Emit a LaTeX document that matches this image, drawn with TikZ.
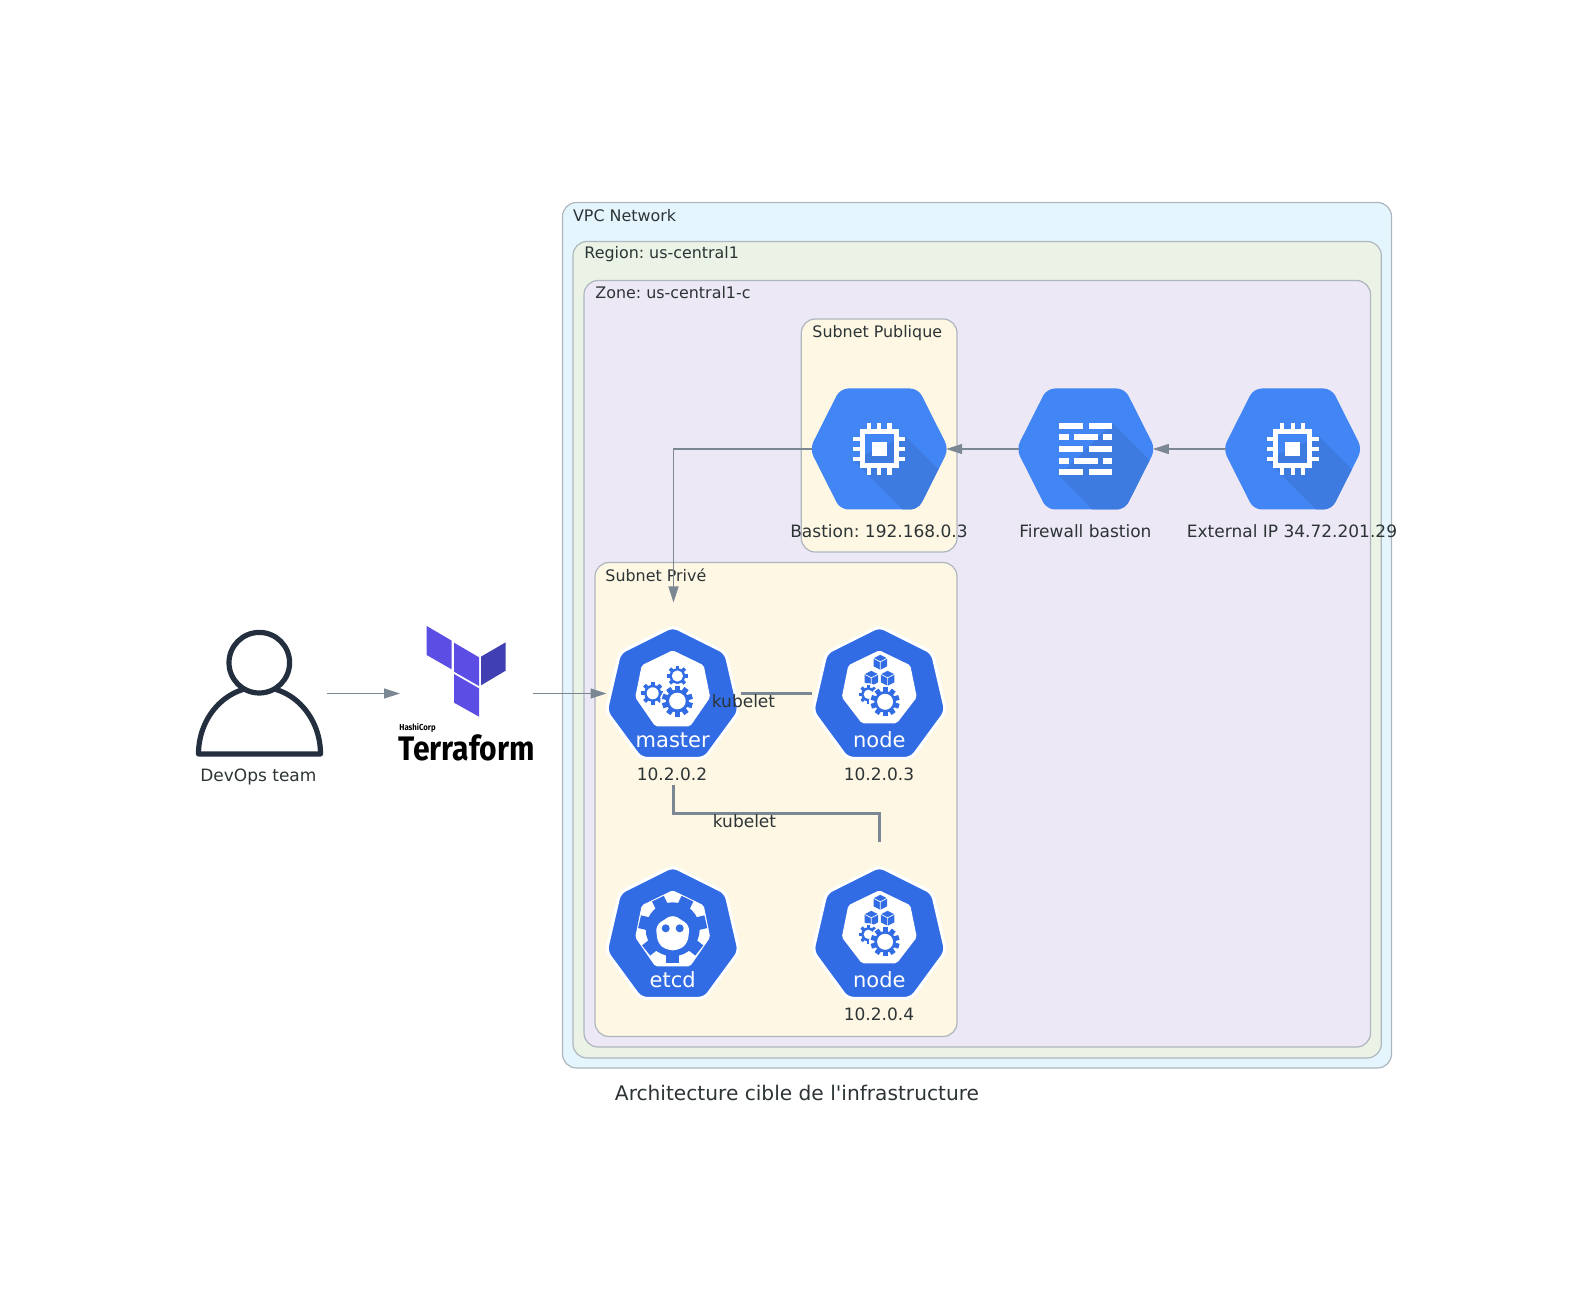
\documentclass[tikz,border=0pt]{standalone}
\usepackage{fontspec}
\usepackage{graphicx}
\setmainfont{DejaVu Sans}
\newfontfamily\tffont{Fira Sans}
\newfontfamily\titlefont{DejaVu Sans}
\usetikzlibrary{arrows.meta}
\frenchspacing
\definecolor{edgegray}{HTML}{7B8894}
\definecolor{txt}{HTML}{2D3436}
\definecolor{kblue}{HTML}{326CE5}
\definecolor{gblue}{HTML}{4285F4}
\definecolor{gshade}{HTML}{3E7BE0}
\definecolor{tfa}{HTML}{5C4EE5}
\definecolor{tfb}{HTML}{4040B2}
\definecolor{usercol}{HTML}{232F3E}
\definecolor{bordercol}{HTML}{AEB6BE}
\definecolor{vpcfill}{HTML}{E5F5FD}
\definecolor{regfill}{HTML}{EBF3E7}
\definecolor{zonefill}{HTML}{ECE8F6}
\definecolor{subfill}{HTML}{FDF7E3}
\tikzset{
  cluster/.style={draw=bordercol,line width=0.6pt,rounded corners=7pt},
  clab/.style={text=txt,font=\fontsize{7.95}{10}\selectfont,anchor=west,inner sep=0pt},
  lab/.style={text=txt,font=\fontsize{8.5}{10}\selectfont,inner sep=0pt},
  klab/.style={text=white,font=\fontsize{10.5}{12}\selectfont,inner sep=0pt},
  kubebox/.style={minimum width=67pt,minimum height=91pt,inner sep=0pt,outer sep=0pt},
  hexbox/.style={minimum width=67pt,minimum height=60.5pt,inner sep=0pt,outer sep=0pt},
  plainbox/.style={minimum width=66.7pt,minimum height=66.7pt,inner sep=0pt,outer sep=0pt},
  thin edge/.style={draw=edgegray,line width=0.6pt,-{Triangle[length=8pt,width=5pt]}},
  thick edge/.style={draw=edgegray,line width=1.5pt},
}
% gear: x y outer hole teeth
\newcommand{\kgear}[5]{%
  \begin{scope}[shift={(#1,#2)}]
    \fill[white] (0,0) circle ({#3+1.6});
    \foreach \i in {1,...,#5}{\fill[kblue,rotate={360*\i/#5}] ({-0.17*#3},0) rectangle ({0.17*#3},#3);}
    \fill[kblue] (0,0) circle ({0.74*#3});
    \fill[white] (0,0) circle (#4);
  \end{scope}}
\newcommand{\kcube}[2]{%
  \begin{scope}[shift={(#1,#2)}]
    \fill[kblue] (0,-7.5)--(6.8,-4)--(6.8,4)--(0,7.5)--(-6.8,4)--(-6.8,-4)--cycle;
    \draw[white,line width=0.35pt] (-6.8,-4)--(0,-0.5)--(6.8,-4) (0,-0.5)--(0,7.5);
  \end{scope}}
% heptagon: x y bottom of the inner face
\newcommand{\khept}[3]{%
  \begin{scope}[shift={(#1,#2)}]
    \filldraw[fill=kblue,draw=white,line width=1.5pt,rounded corners=3pt,line join=round]
      (0,-67)--(53,-40.5)--(66.5,18)--(32,65)--(-32,65)--(-66.5,18)--(-53,-40.5)--cycle;
    \fill[white,rounded corners=1pt] (0,-43)--(31,-28)--(37.5,4)--(17.5,#3)--(-17.5,#3)--(-37.5,4)--(-31,-28)--cycle;
  \end{scope}}
\newcommand{\knodeicon}[2]{%
  \khept{#1}{#2}{30}
  \begin{scope}[shift={(#1,#2)}]
    \kcube{1}{-31}\kcube{-8}{-15}\kcube{8.3}{-15}
    \kgear{-11}{1}{9.5}{4.6}{8}
    \kgear{5.8}{8.5}{14.5}{8}{10}
  \end{scope}}
\newcommand{\gchexbase}[1]{%
  \path[clip,rounded corners=4pt] (-39,-60.5)--(39,-60.5)--(69.5,0)--(39,60.5)--(-39,60.5)--(-69.5,0)--cycle;
  \fill[gblue] (-80,-70) rectangle (80,70);
  \fill[gshade] #1;}
\newcommand{\chipicon}[2]{%
  \begin{scope}[shift={(#1,#2)}]
    \begin{scope}
      \gchexbase{(26,-13)--(90,51)--(90,70)--(33,70)--(-26,11)--cycle}
    \end{scope}
    \draw[white,line width=2.5pt] (-17,-17) rectangle (17,17);
    \fill[white] (-7.3,-7.3) rectangle (7.3,7.3);
    \foreach \p in {-10.3,0,10.3}{
      \fill[white] (\p-2.1,-26) rectangle (\p+2.1,-19);
      \fill[white] (\p-2.1,19) rectangle (\p+2.1,26);
      \fill[white] (-26,\p-2.1) rectangle (-19,\p+2.1);
      \fill[white] (19,\p-2.1) rectangle (26,\p+2.1);
    }
  \end{scope}}
\newcommand{\fwbar}[3]{\fill[white] (#1,#3-3) rectangle (#2,#3+3);}
\newcommand{\fwicon}[2]{%
  \begin{scope}[shift={(#1,#2)}]
    \begin{scope}
      \gchexbase{(26.5,-26)--(90,37.5)--(90,70)--(16,70)--(-26.5,27)--cycle}
    \end{scope}
    \foreach \r in {-22.8,0.3,23.5}{\fwbar{-26.5}{-2.5}{\r}\fwbar{2.8}{26.5}{\r}}
    \foreach \r in {-11.5,12}{\fwbar{-26.5}{-17}{\r}\fwbar{-12}{11.8}{\r}\fwbar{17.5}{26.5}{\r}}
  \end{scope}}
\begin{document}
\begin{tikzpicture}[x=0.5pt,y=-0.5pt]
\useasboundingbox (0,0) rectangle (1595,1304);
% clusters
\draw[cluster,fill=vpcfill] (562.5,202.5) rectangle (1391.5,1068);
\draw[cluster,fill=regfill] (573,241.5) rectangle (1381.3,1058);
\draw[cluster,fill=zonefill] (584,280.5) rectangle (1370.5,1047);
\draw[cluster,fill=subfill] (801.3,319) rectangle (957,552);
\draw[cluster,fill=subfill] (595,562.5) rectangle (957,1036.5);
\node[clab] (lvpc) at (572.7,216) {VPC Network};
\node[clab] (lreg) at (584,254.5) {Region: us-central1};
\node[clab] (lzone) at (595,292.5) {Zone: us-central1-c};
\node[clab] (lpub) at (812,333) {Subnet Publique};
\node[clab] (lpriv) at (605,575) {Subnet Privé};
% user
\begin{scope}[line width=2.6pt,line join=round]
  \draw[usercol] (198.5,754) arc[start angle=180,end angle=360,x radius=61,y radius=67] -- cycle;
  \filldraw[draw=usercol,fill=white] (259.3,662.7) circle (30.3);
\end{scope}
\node[plainbox] (user) at (260,693.5) {};
% terraform
\begin{scope}[shift={(180,600)},x=0.16667pt,y=-0.16667pt]
  \fill[tfa] (740,78)--(815,122)--(815,208)--(740,165)--cycle;
  \fill[tfa] (822,128)--(897,172)--(897,258)--(822,215)--cycle;
  \fill[tfb] (903,170)--(977,127)--(977,212)--(903,256)--cycle;
  \fill[tfa] (822,222)--(897,265)--(897,350)--(822,308)--cycle;
\end{scope}
\node[plainbox] (tf) at (466.7,693.5) {};
\node[inner sep=0pt,anchor=west] (hashi) at (399,728.3) {\tffont\bfseries\fontsize{4.3}{5}\selectfont\scalebox{0.9}[1]{HashiCorp}};
\node[inner sep=0pt] (tfword) at (466.6,748) {\tffont\bfseries\fontsize{17}{20}\selectfont\scalebox{0.885}[1]{Terraform}};
% GCP icons
\chipicon{879.2}{449}
\fwicon{1085.8}{449}
\chipicon{1292.6}{449}
\node[hexbox] (bastion) at (879.2,449) {};
\node[hexbox] (firewall) at (1085.8,449) {};
\node[hexbox] (extip) at (1292.6,449) {};
% k8s icons
\khept{672.7}{693.3}{33}
\begin{scope}[shift={(672.7,693.3)}]
  \kgear{4.7}{-17.3}{10.5}{5.6}{8}
  \kgear{-20}{0}{11.5}{6}{8}
  \kgear{4.7}{7.7}{15.5}{8.3}{10}
\end{scope}
\knodeicon{879.3}{693.3}
\khept{672.7}{933.3}{33}
\begin{scope}[shift={(672.7,929.3)}]
  \foreach \i in {0,...,6}{\fill[kblue,rotate={360*\i/7}] (-6.5,0) rectangle (6.5,34);}
  \fill[kblue] (0,0) circle (27);
  \fill[white,rounded corners=3pt] (0,-15)--(17,-4)--(15,14)--(6,21)--(-6,21)--(-15,14)--(-17,-4)--cycle;
  \fill[kblue] (-7,-1) circle (4);
  \fill[kblue] (7,-1) circle (4);
\end{scope}
\knodeicon{879.3}{933.3}
\node[kubebox] (master) at (673.5,693.5) {};
\node[kubebox] (node1) at (879.3,693.5) {};
\node[kubebox] (etcd) at (673.5,933.3) {};
\node[kubebox] (node2) at (879.3,933.3) {};
\coordinate (bend) at (776,813);
% connectors
\draw[thin edge] (user.east) -- (tf.west);
\draw[thin edge] (tf.east) -- (master.west);
\draw[thin edge] (extip.west) -- (firewall.east);
\draw[thin edge] (firewall.west) -- (bastion.east);
\draw[thin edge] (bastion.west) -| (master.north);
\draw[thick edge] (master.east) -- (node1.west);
\draw[thick edge] (master.south) |- (bend) -| (node2.north);
% labels
\node[klab] (tmaster) at (672.7,740) {master};
\node[klab] (tnode1) at (879.3,740) {node};
\node[klab] (tetcd) at (672.7,979.5) {etcd};
\node[klab] (tnode2) at (879.3,979.5) {node};
\node[lab] (lmaster) at (672,774.5) {10.2.0.2};
\node[lab] (lnode1) at (879,774.5) {10.2.0.3};
\node[lab] (lnode2) at (879,1014.5) {10.2.0.4};
\node[lab] (k1) at (743.5,701) {kubelet};
\node[lab] (k2) at (744.5,821.5) {kubelet};
\node[lab] (lbast) at (879,531) {Bastion: 192.168.0.3};
\node[lab] (lfw) at (1085.4,531) {Firewall bastion};
\node[lab] (lext) at (1292,531) {External IP 34.72.201.29};
\node[lab] (luser) at (258.4,776.5) {DevOps team};
\node[lab,font=\titlefont\fontsize{10.08}{12}\selectfont] (title) at (797,1092.5) {Architecture cible de l'infrastructure};
\end{tikzpicture}
\end{document}
